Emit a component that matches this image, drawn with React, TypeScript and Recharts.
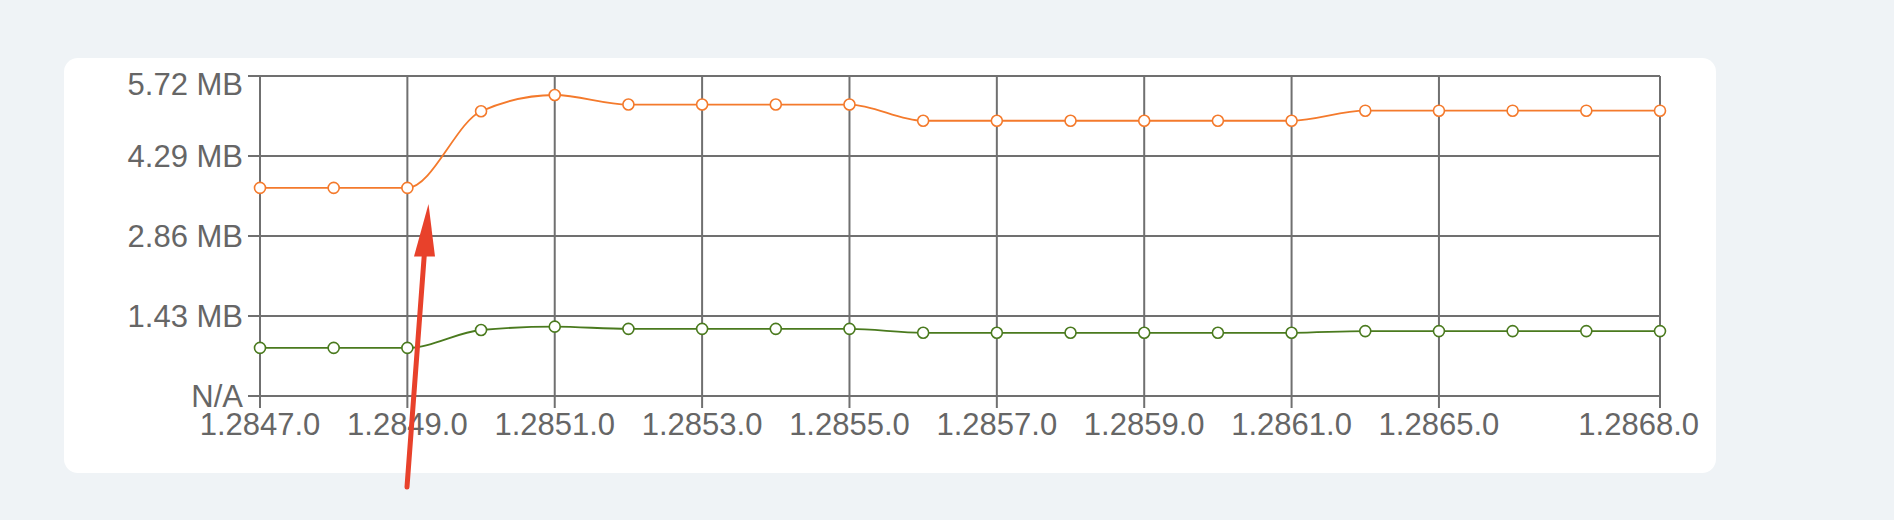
import React from 'react';
import { LineChart, Line, XAxis, YAxis, CartesianGrid } from 'recharts';

const categories = [
  '1.2847.0', '1.2848.0', '1.2849.0', '1.2850.0', '1.2851.0', '1.2852.0', '1.2853.0',
  '1.2854.0', '1.2855.0', '1.2856.0', '1.2857.0', '1.2858.0', '1.2859.0', '1.2860.0',
  '1.2861.0', '1.2863.0', '1.2865.0', '1.2866.0', '1.2867.0', '1.2868.0',
];
const orangeSeries = [
  3.72, 3.72, 3.72, 5.09, 5.38, 5.21, 5.21, 5.21, 5.21, 4.92,
  4.92, 4.92, 4.92, 4.92, 4.92, 5.1, 5.1, 5.1, 5.1, 5.1,
];
const greenSeries = [
  0.86, 0.86, 0.86, 1.18, 1.24, 1.2, 1.2, 1.2, 1.2, 1.13,
  1.13, 1.13, 1.13, 1.13, 1.13, 1.16, 1.16, 1.16, 1.16, 1.16,
];
const xTickLabels = [
  '1.2847.0', '1.2849.0', '1.2851.0', '1.2853.0', '1.2855.0',
  '1.2857.0', '1.2859.0', '1.2861.0', '1.2865.0', '1.2868.0',
];
const yTickValues = [0, 1.43, 2.86, 4.29, 5.72];
const yTickLabels = ['N/A', '1.43 MB', '2.86 MB', '4.29 MB', '5.72 MB'];

const data = categories.map((c, i) => ({ name: c, orange: orangeSeries[i], green: greenSeries[i] }));

const GRID = '#707070';
const TEXT = '#666666';
const FONT = '"Liberation Sans", Arial, sans-serif';
const FS = 31;

const YTick = (props: any) => {
  const { x, y, payload } = props;
  const idx = yTickValues.indexOf(payload.value);
  const isTop = idx === yTickValues.length - 1;
  return (
    <text x={x} y={y + (isTop ? 8 : 0)} dy="0.36em" textAnchor="end" fill={TEXT} fontSize={FS} fontFamily={FONT}>
      {yTickLabels[idx]}
    </text>
  );
};

const XTick = (props: any) => {
  const { x, y, payload } = props;
  const isLast = payload.value === xTickLabels[xTickLabels.length - 1];
  return (
    <text x={isLast ? x + 39 : x} y={y} dy="0.71em" textAnchor={isLast ? 'end' : 'middle'} fill={TEXT} fontSize={FS} fontFamily={FONT}>
      {payload.value}
    </text>
  );
};

export default function App() {
  return (
    <div style={{ position: 'fixed', left: 0, top: 0, width: 1894, height: 520, background: '#eff3f6', overflow: 'hidden' }}>
      <div style={{ position: 'absolute', left: 64, top: 58, width: 1652, height: 415, background: '#ffffff', borderRadius: 14 }} />
      <div style={{ position: 'absolute', left: 0, top: 0 }}>
        <LineChart width={1894} height={520} data={data} margin={{ top: 76, right: 234, bottom: 84, left: 0 }}>
          <CartesianGrid stroke={GRID} strokeWidth={2} />
          <XAxis
            dataKey="name"
            ticks={xTickLabels}
            interval={0}
            height={40}
            axisLine={{ stroke: GRID, strokeWidth: 2 }}
            tickLine={{ stroke: GRID, strokeWidth: 2 }}
            tickSize={12}
            tickMargin={5}
            tick={<XTick />}
          />
          <YAxis
            type="number"
            domain={[0, 5.72]}
            ticks={yTickValues}
            interval={0}
            width={260}
            axisLine={{ stroke: GRID, strokeWidth: 2 }}
            tickLine={{ stroke: GRID, strokeWidth: 2 }}
            tickSize={12}
            tickMargin={5}
            tick={<YTick />}
          />
          <Line
            type="monotone"
            dataKey="orange"
            stroke="#f47a2c"
            strokeWidth={1.8}
            dot={{ r: 5.5, fill: '#ffffff', stroke: '#f47a2c', strokeWidth: 1.6 }}
            activeDot={false}
            isAnimationActive={false}
          />
          <Line
            type="monotone"
            dataKey="green"
            stroke="#4a7a1e"
            strokeWidth={1.8}
            dot={{ r: 5.5, fill: '#ffffff', stroke: '#4a7a1e', strokeWidth: 1.6 }}
            activeDot={false}
            isAnimationActive={false}
          />
        </LineChart>
      </div>
      <svg width={1894} height={520} style={{ position: 'absolute', left: 0, top: 0, pointerEvents: 'none' }}>
        <line x1={407} y1={487} x2={424.5} y2={252} stroke="#e8412b" strokeWidth={5} strokeLinecap="round" />
        <polygon points="428.5,204 414,256.5 435,256.5" fill="#e8412b" />
      </svg>
    </div>
  );
}
